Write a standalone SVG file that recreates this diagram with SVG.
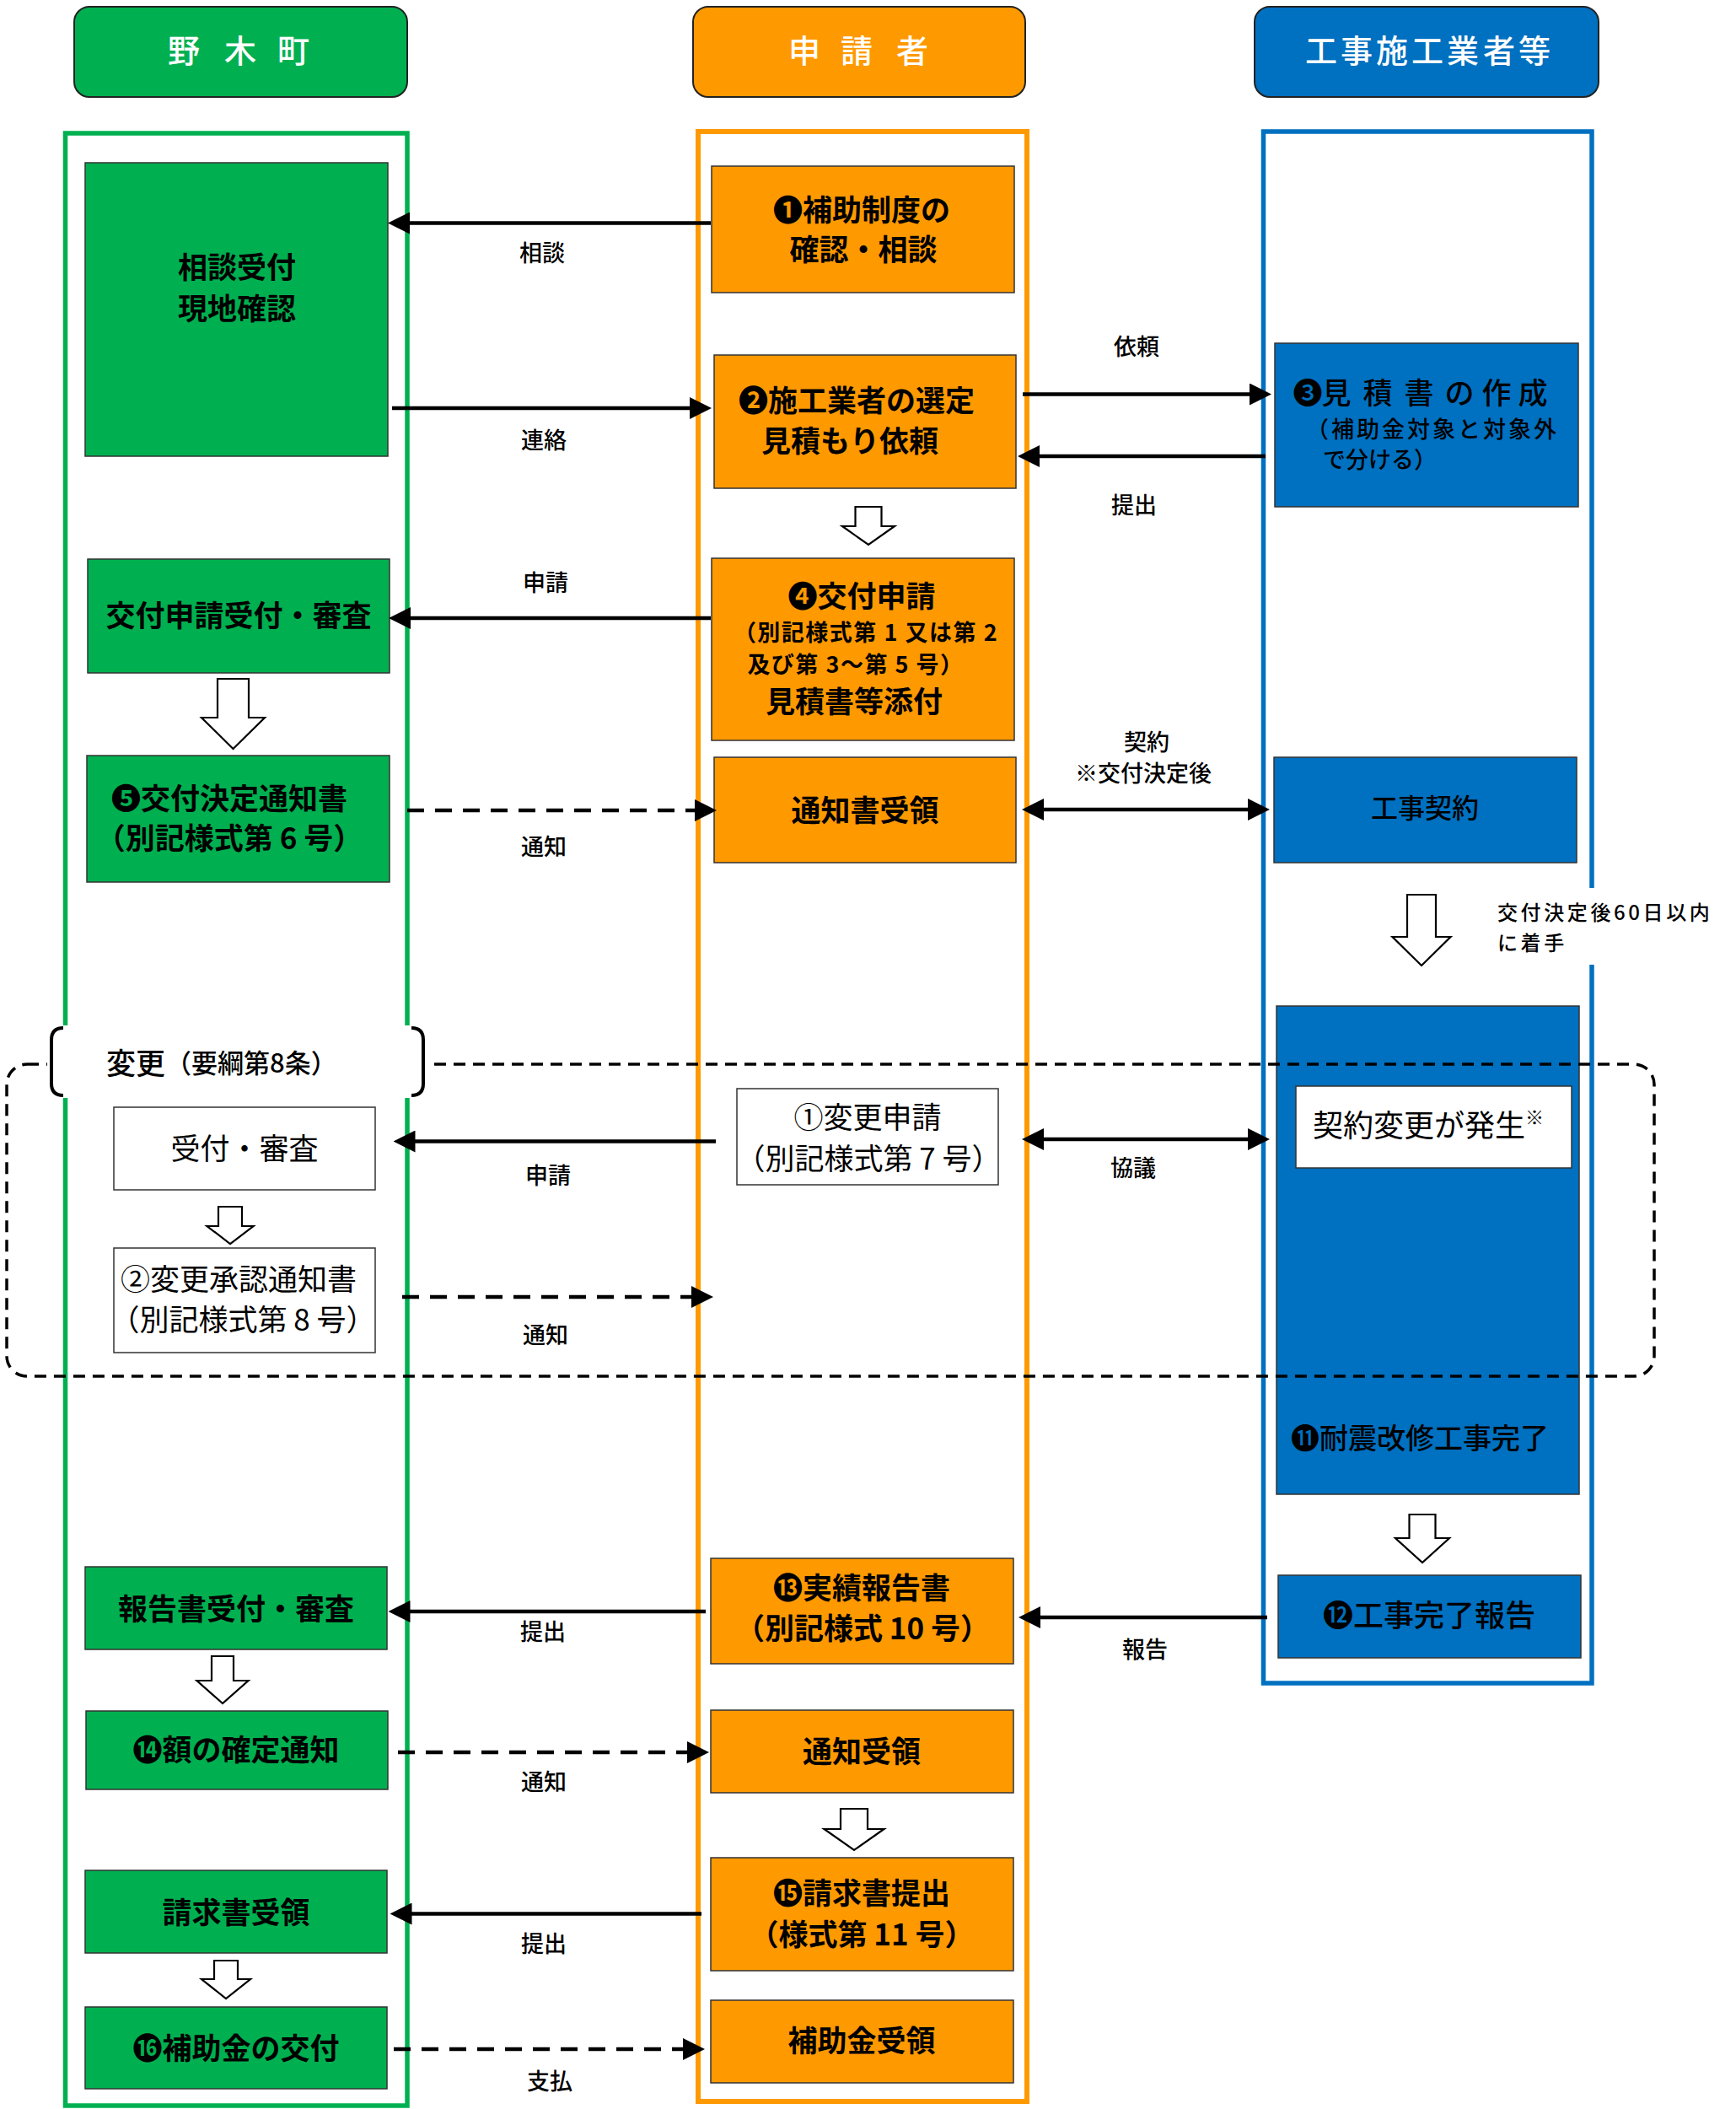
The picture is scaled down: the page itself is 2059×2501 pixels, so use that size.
<svg xmlns="http://www.w3.org/2000/svg" width="2059" height="2501" viewBox="0 0 2059 2501">
<defs>
<style>
text{font-family:"Noto Sans CJK JP","Noto Sans CJK SC",sans-serif;dominant-baseline:central;transform:translate(0px,-4px);}
.hd{fill:#fff;font-size:38px;font-weight:500;text-anchor:middle;}
.nt{font-size:35px;font-weight:700;text-anchor:middle;fill:#000;}
.ns{font-size:27px;font-weight:700;text-anchor:middle;fill:#000;letter-spacing:1.5px;}
.wt{font-size:35px;font-weight:400;text-anchor:middle;fill:#000;}
.bt{font-size:35px;font-weight:500;text-anchor:middle;fill:#000;}
.lb{font-size:27px;font-weight:500;text-anchor:middle;fill:#000;}
.g{fill:#00B050;stroke:#333;stroke-width:1.5;}
.o{fill:#FF9900;stroke:#333;stroke-width:1.5;}
.b{fill:#0070C0;stroke:#333;stroke-width:1.5;}
.w{fill:#fff;stroke:#333;stroke-width:1.5;}
.ha{fill:#fff;stroke:#000;stroke-width:2.2;stroke-linejoin:miter;}
.c{stroke:#000;stroke-width:4.5;fill:none;marker-end:url(#ah);}
.cb{stroke:#000;stroke-width:4.5;fill:none;marker-end:url(#ah);marker-start:url(#ah);}
.cd{stroke:#000;stroke-width:4.5;fill:none;stroke-dasharray:20 13;marker-end:url(#ah);}
</style>
<marker id="ah" markerUnits="userSpaceOnUse" markerWidth="26" markerHeight="26" refX="16" refY="13" orient="auto-start-reverse" viewBox="0 0 26 26">
<path d="M0,0 L26,13 L0,26 Z" fill="#000"/>
</marker>
</defs>
<rect width="2059" height="2501" fill="#fff"/>

<g id="headers">
<g id="h-nogi">
<rect x="88" y="8" width="395" height="107" rx="18" fill="#00B050" stroke="#222" stroke-width="2"/>
<text class="hd" y="61"><tspan x="218">野</tspan><tspan x="285">木</tspan><tspan x="348">町</tspan></text>
</g>
<g id="h-shinsei">
<rect x="822" y="8" width="394" height="107" rx="18" fill="#FF9900" stroke="#222" stroke-width="2"/>
<text class="hd" y="61"><tspan x="954">申</tspan><tspan x="1016">請</tspan><tspan x="1082">者</tspan></text>
</g>
<g id="h-kouji">
<rect x="1488" y="8" width="408" height="107" rx="18" fill="#0070C0" stroke="#222" stroke-width="2"/>
<text class="hd" y="61" x="1567 1609 1651 1693 1735 1778 1820">工事施工業者等</text>
</g>
</g>

<g id="lanes" fill="none">
<rect x="77.5" y="158" width="405.5" height="2339" stroke="#00B050" stroke-width="5.5"/>
<rect x="828" y="156" width="390" height="2336" stroke="#FF9900" stroke-width="6"/>
<rect x="1498.5" y="156" width="389.5" height="1840" stroke="#0070C0" stroke-width="5.5"/>
</g>

<g id="nodes">
<g id="n-soudan">
<rect class="g" x="101" y="193" width="359" height="348"/>
<text class="nt" x="281" y="318">相談受付</text>
<text class="nt" x="281" y="367">現地確認</text>
</g>
<g id="n-kofu-uketsuke">
<rect class="g" x="104" y="663" width="358" height="135"/>
<text class="nt" x="283" y="731">交付申請受付・審査</text>
</g>
<g id="n5">
<rect class="g" x="103" y="896" width="359" height="150"/>
<text class="nt" x="272" y="948">❺交付決定通知書</text>
<text class="nt" x="272" y="995">（別記様式第 6 号）</text>
</g>
<g id="n-houkoku-uketsuke">
<rect class="g" x="101" y="1858" width="358" height="98"/>
<text class="nt" x="280" y="1909">報告書受付・審査</text>
</g>
<g id="n14">
<rect class="g" x="102" y="2029" width="358" height="93"/>
<text class="nt" x="280" y="2076">⓮額の確定通知</text>
</g>
<g id="n-seikyu-juryo">
<rect class="g" x="101" y="2218" width="358" height="98"/>
<text class="nt" x="280" y="2269">請求書受領</text>
</g>
<g id="n16">
<rect class="g" x="101" y="2380" width="358" height="97"/>
<text class="nt" x="280" y="2430">⓰補助金の交付</text>
</g>

<g id="n1">
<rect class="o" x="844" y="197" width="359" height="150"/>
<text class="nt" x="1022" y="250">❶補助制度の</text>
<text class="nt" x="1024" y="297">確認・相談</text>
</g>
<g id="n2">
<rect class="o" x="847" y="421" width="358" height="158"/>
<text class="nt" x="1016" y="476">❷施工業者の選定</text>
<text class="nt" x="1008" y="524">見積もり依頼</text>
</g>
<g id="n4">
<rect class="o" x="844" y="662" width="359" height="216"/>
<text class="nt" x="1022" y="708">❹交付申請</text>
<text class="ns" x="1027" y="752">（別記様式第 1 又は第 2</text>
<text class="ns" x="1015" y="790">及び第 3～第 5 号）</text>
<text class="nt" x="1013" y="833">見積書等添付</text>
</g>
<g id="n-tsuchisho-juryo">
<rect class="o" x="847" y="898" width="358" height="125"/>
<text class="nt" x="1026" y="962">通知書受領</text>
</g>
<g id="n13">
<rect class="o" x="843" y="1848" width="359" height="125"/>
<text class="nt" x="1022" y="1884">⓭実績報告書</text>
<text class="nt" x="1023" y="1932">（別記様式 10 号）</text>
</g>
<g id="n-tsuchi-juryo">
<rect class="o" x="843" y="2028" width="359" height="98"/>
<text class="nt" x="1022" y="2078">通知受領</text>
</g>
<g id="n15">
<rect class="o" x="843" y="2203" width="359" height="134"/>
<text class="nt" x="1022" y="2246">⓯請求書提出</text>
<text class="nt" x="1022" y="2295">（様式第 11 号）</text>
</g>
<g id="n-hojokin-juryo">
<rect class="o" x="843" y="2372" width="359" height="98"/>
<text class="nt" x="1022" y="2421">補助金受領</text>
</g>

<g id="n3">
<rect class="b" x="1512" y="407" width="360" height="194"/>
<text class="bt" y="467" x="1551 1585 1634 1683 1731 1775 1818">❸見積書の作成</text>
<text style="font-size:27px;font-weight:500;letter-spacing:3px" x="1549" y="511">（補助金対象と対象外</text>
<text style="font-size:27px;font-weight:500" x="1569" y="547">で分ける）</text>
</g>
<g id="n-kouji-keiyaku">
<rect class="b" x="1511" y="898" width="359" height="125"/>
<text class="bt" style="font-size:32px" x="1690" y="960">工事契約</text>
</g>
<g id="n11">
<rect class="b" x="1514" y="1193" width="359" height="579"/>
<rect class="w" x="1537" y="1288" width="327" height="97"/>
<text style="font-size:36px;font-weight:400" x="1557" y="1336">契約変更が発生<tspan style="font-size:22px" dy="-9">※</tspan></text>
<text class="bt" style="font-size:34px" x="1684" y="1707">⓫耐震改修工事完了</text>
</g>
<g id="n12">
<rect class="b" x="1516" y="1868" width="359" height="98"/>
<text class="bt" style="font-size:36px" x="1695" y="1917">⓬工事完了報告</text>
</g>

<g id="n-henko-shinsei">
<rect class="w" x="874" y="1291" width="310" height="114"/>
<text class="wt" x="1029" y="1326">①変更申請</text>
<text class="wt" x="1030" y="1375">（別記様式第 7 号）</text>
</g>
<g id="n-henko-uketsuke">
<rect class="w" x="135" y="1313" width="310" height="98"/>
<text class="wt" x="290" y="1363">受付・審査</text>
</g>
<g id="n-henko-shonin">
<rect class="w" x="135" y="1480" width="310" height="124"/>
<text class="wt" x="283" y="1518">②変更承認通知書</text>
<text class="wt" x="288" y="1566">（別記様式第 8 号）</text>
</g>
</g>

<g id="flow-arrows">
<path class="ha" d="M258,805 L295,805 L295,851 L314,851 L276.5,888 L239,851 L258,851 Z"/>
<path class="ha" d="M259,1431 L287,1431 L287,1454 L300.5,1454 L273,1475 L245.5,1454 L259,1454 Z"/>
<path class="ha" d="M251,1964 L277,1964 L277,1993 L294.5,1993 L264,2020 L233.5,1993 L251,1993 Z"/>
<path class="ha" d="M254,2325 L282,2325 L282,2347 L297,2347 L268,2370 L239,2347 L254,2347 Z"/>
<path class="ha" d="M1014.5,601 L1045.5,601 L1045.5,624 L1061,624 L1030,646 L999,624 L1014.5,624 Z"/>
<path class="ha" d="M997,2145 L1029,2145 L1029,2169 L1048.5,2169 L1013,2194 L977.5,2169 L997,2169 Z"/>
<path class="ha" d="M1669,1061 L1703,1061 L1703,1111 L1720.5,1111 L1686,1145 L1651.5,1111 L1669,1111 Z"/>
<path class="ha" d="M1671.5,1796 L1702.5,1796 L1702.5,1824 L1719,1824 L1687,1853 L1655,1824 L1671.5,1824 Z"/>
</g>

<g id="note-60days">
<rect x="1770" y="1053" width="275" height="91" fill="#fff"/>
<text style="font-size:24px;font-weight:500;letter-spacing:3.6px" x="1776" y="1084">交付決定後60日以内</text>
<text style="font-size:24px;font-weight:500;letter-spacing:3.6px" x="1776" y="1120">に着手</text>
</g>

<g id="change-region">
<rect x="8" y="1262" width="1954" height="370" rx="24" fill="none" stroke="#000" stroke-width="3.5" stroke-dasharray="14 9"/>
<rect x="56" y="1216" width="451" height="86" fill="#fff"/>
<path d="M75,1219 Q61,1219 61,1233 L61,1285 Q61,1299 75,1299" fill="none" stroke="#000" stroke-width="4"/>
<path d="M488,1219 Q502,1219 502,1233 L502,1285 Q502,1299 488,1299" fill="none" stroke="#000" stroke-width="4"/>
<text x="126" y="1262" style="font-weight:500"><tspan style="font-size:35px">変更</tspan><tspan style="font-size:31px">（要綱第8条）</tspan></text>
</g>

<g id="connectors">
<line class="c" x1="843" y1="264.5" x2="470" y2="264.5"/>
<line class="c" x1="465" y1="484" x2="834" y2="484"/>
<line class="c" x1="1213" y1="467.5" x2="1498" y2="467.5"/>
<line class="c" x1="1501" y1="541" x2="1217" y2="541"/>
<line class="c" x1="843" y1="733" x2="471" y2="733"/>
<line class="cd" x1="483" y1="961" x2="840" y2="961"/>
<line class="cb" x1="1222" y1="960" x2="1496" y2="960"/>
<line class="c" x1="849" y1="1353.5" x2="476.5" y2="1353.5"/>
<line class="cb" x1="1222" y1="1351" x2="1496" y2="1351"/>
<line class="cd" x1="477" y1="1538" x2="836" y2="1538"/>
<line class="c" x1="1503" y1="1918" x2="1218" y2="1918"/>
<line class="c" x1="837" y1="1911" x2="470.5" y2="1911"/>
<line class="cd" x1="472" y1="2078" x2="831" y2="2078"/>
<line class="c" x1="832" y1="2269.5" x2="472.5" y2="2269.5"/>
<line class="cd" x1="467" y1="2430" x2="826" y2="2430"/>
<text class="lb" x="643" y="302">相談</text>
<text class="lb" x="645" y="524">連絡</text>
<text class="lb" x="1348" y="413">依頼</text>
<text class="lb" x="1345" y="601">提出</text>
<text class="lb" x="647" y="693">申請</text>
<text class="lb" x="645" y="1006">通知</text>
<text class="lb" x="1360" y="882">契約</text>
<text class="lb" x="1356" y="919">※交付決定後</text>
<text class="lb" x="650" y="1396">申請</text>
<text class="lb" x="1344" y="1387">協議</text>
<text class="lb" x="647" y="1585">通知</text>
<text class="lb" x="1358" y="1958">報告</text>
<text class="lb" x="644" y="1937">提出</text>
<text class="lb" x="645" y="2115">通知</text>
<text class="lb" x="645" y="2307">提出</text>
<text class="lb" x="652" y="2470">支払</text>
</g>
</svg>
